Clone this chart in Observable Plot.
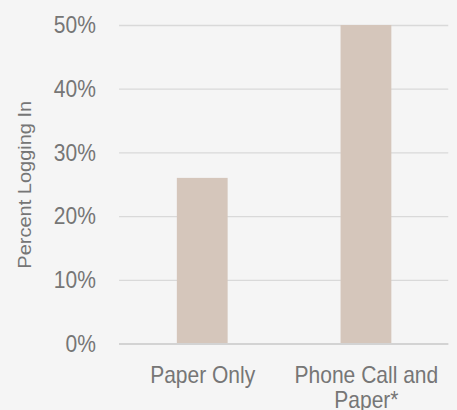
<!DOCTYPE html>
<html>
<head>
<meta charset="utf-8">
<script src="https://cdn.jsdelivr.net/npm/d3@7"></script>
<script src="https://cdn.jsdelivr.net/npm/@observablehq/plot@0.6"></script>
<style>
  html, body { margin: 0; padding: 0; background: #f5f5f5; }
  #chart { width: 457px; height: 410px; overflow: hidden; }
</style>
</head>
<body>
<div id="chart"></div>
<script>
const categories = ["Paper Only", "Phone Call and Paper*"];
const values = [26, 50];
const xTickLabels = ["Paper Only", "Phone Call and\nPaper*"];
const yTicks = [0, 10, 20, 30, 40, 50];
const yLabel = "Percent Logging In";

const data = categories.map((c, i) => ({category: c, value: values[i]}));

const W = 457, H = 410;
const VW = 522; // virtual width; the drawing is squeezed horizontally to W

const svg = Plot.plot({
  width: VW,
  height: H,
  marginLeft: 136,
  marginRight: 10,
  marginTop: 25,
  marginBottom: 66.5,
  style: {background: "#f5f5f5", color: "#767676", fontFamily: "'Liberation Sans', Arial, sans-serif"},
  x: {domain: categories, paddingInner: 0.69, paddingOuter: 0.347},
  y: {domain: [0, 50]},
  marks: [
    Plot.gridY(yTicks, {stroke: "#d9d9d9", strokeOpacity: 1, strokeWidth: 1.3}),
    Plot.barY(data, {x: "category", y: "value", fill: "#d5c6bb"}),
    Plot.ruleY([0], {stroke: "#d3d3d3", strokeWidth: 2}),
    Plot.axisY(yTicks, {tickSize: 0, tickPadding: 27, tickFormat: d => d + "%", fontSize: 24, label: null}),
    Plot.axisX({tickSize: 0, tickPadding: 21, tickFormat: d => xTickLabels[categories.indexOf(d)], fontSize: 24, lineHeight: 1.04, label: null}),
    Plot.text([yLabel], {frameAnchor: "left", dx: -108, rotate: -90, textAnchor: "middle", fontSize: 20, fill: "#767676"})
  ]
});

svg.setAttribute("width", W);
svg.setAttribute("height", H);
svg.setAttribute("preserveAspectRatio", "none");
svg.style.width = W + "px";
svg.style.height = H + "px";
svg.style.maxWidth = "none";
document.getElementById("chart").appendChild(svg);
</script>
</body>
</html>
